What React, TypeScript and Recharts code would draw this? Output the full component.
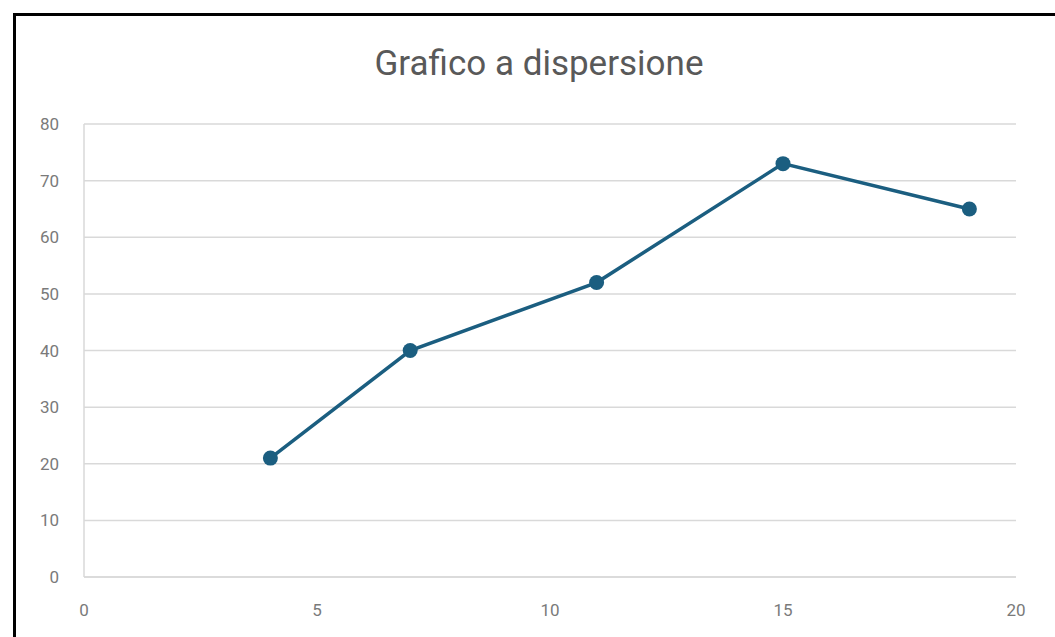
import React from 'react';
import { ScatterChart, Scatter, XAxis, YAxis, CartesianGrid } from 'recharts';

const xValues = [4, 7, 11, 15, 19];
const yValues = [21, 40, 52, 73, 65];
const xTicks = [0, 5, 10, 15, 20];
const yTicks = [0, 10, 20, 30, 40, 50, 60, 70, 80];
const title = 'Grafico a dispersione';

const data = xValues.map((x, i) => ({ x, y: yValues[i] }));

const LINE = '#1b5e80';
const TICK = { fill: '#7a7a7a', fontSize: 17, fontFamily: 'Roboto, sans-serif' };

export default function App() {
  return (
    <div style={{ position: 'absolute', left: 0, top: 0, width: 1055, height: 637, overflow: 'hidden', background: '#fff' }}>
      <div style={{ position: 'absolute', left: 13, top: 13, width: 1100, height: 700, border: '3px solid #000', boxSizing: 'border-box' }} />
      <div style={{ position: 'absolute', left: 0, top: 0, width: 1055, height: 637, textAlign: 'center' }}>
        <div style={{ position: 'absolute', left: 0, width: 1078, top: 43, fontFamily: 'Roboto, sans-serif', fontSize: 35, color: '#595959', lineHeight: '42px' }}>{title}</div>
        <ScatterChart width={1055} height={637} margin={{ top: 124, right: 39, bottom: 20, left: 24 }}>
          <CartesianGrid horizontal vertical={false} stroke="#d9d9d9" strokeWidth={1.5} />
          <XAxis type="number" dataKey="x" domain={[0, 20]} ticks={xTicks} height={40} tickLine={false}
            tickMargin={21} axisLine={{ stroke: '#d9d9d9', strokeWidth: 1.5 }} tick={TICK} />
          <YAxis type="number" dataKey="y" domain={[0, 80]} ticks={yTicks} width={60} tickLine={false}
            tickMargin={19} axisLine={{ stroke: '#d9d9d9', strokeWidth: 1.5 }} tick={TICK} />
          <Scatter data={data} fill={LINE} line={{ stroke: LINE, strokeWidth: 3.5 }} isAnimationActive={false}
            shape={(p: any) => <circle cx={p.cx} cy={p.cy} r={7.5} fill={LINE} />} />
        </ScatterChart>
      </div>
    </div>
  );
}
